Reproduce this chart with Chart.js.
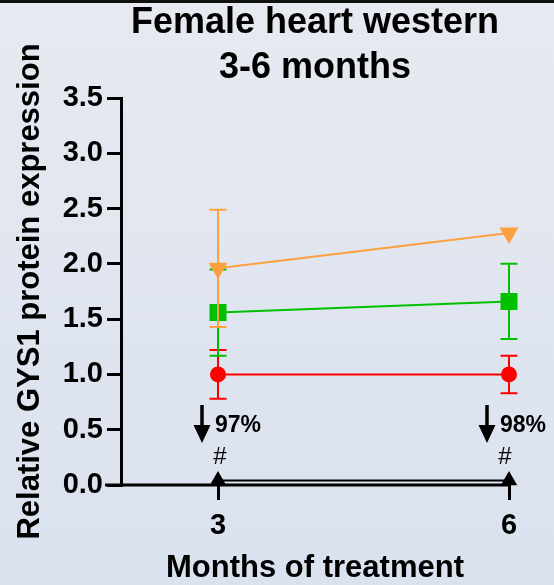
<!DOCTYPE html>
<html>
<head>
<meta charset="utf-8">
<script src="https://cdn.jsdelivr.net/npm/chart.js@4"></script>
<style>
  html, body { margin: 0; padding: 0; background: #e0e6f0; }
  #wrap { width: 554px; height: 585px; }
</style>
</head>
<body>
<div id="wrap"><canvas id="c" width="554" height="585"></canvas></div>
<script>
// Months of treatment (x positions)
const months = [3, 6];
const yTicks = [0, 0.5, 1.0, 1.5, 2.0, 2.5, 3.0, 3.5];

// Group means and SD per month
const redMean = [1.00, 1.00];
const redSD = [0.22, 0.17];
const greenMean = [1.56, 1.66];
const greenSD = [0.39, 0.34];
const orangeMean = [1.96, 2.28];
const orangeSD = [0.53, 0];
const blackMean = [0.04, 0.04];
const blackSD = [0, 0];

// Percent-reduction annotations shown above the x axis
const noteMonths = [3, 6];
const noteTexts = ['97%', '98%'];
const noteMarks = ['#', '#'];

const FONT = '"Liberation Sans", Arial, sans-serif';

function pts(values) {
  return months.map((m, i) => ({ x: m, y: values[i] }));
}

const sdBySeries = [orangeSD, greenSD, redSD, blackSD];

// Background and top rule
const backdrop = {
  id: 'backdrop',
  beforeDraw(chart) {
    const { ctx, width, height } = chart;
    ctx.save();
    const g = ctx.createLinearGradient(0, 0, 0, height);
    g.addColorStop(0, '#e6e9f0');
    g.addColorStop(1, '#dae2ef');
    ctx.fillStyle = g;
    ctx.fillRect(0, 0, width, height);
    ctx.fillStyle = '#111111';
    ctx.fillRect(0, 0, width, 3);
    ctx.restore();
  }
};

// Vertical SD error bars, drawn right after each dataset
const errorBars = {
  id: 'errorBars',
  afterDatasetDraw(chart, args) {
    const sd = sdBySeries[args.index];
    if (!sd) return;
    const ds = chart.data.datasets[args.index];
    const { ctx } = chart;
    const ys = chart.scales.y;
    const xs = chart.scales.x;
    ctx.save();
    ctx.strokeStyle = ds.borderColor;
    ctx.lineWidth = 2;
    ds.data.forEach((p, i) => {
      if (!sd[i]) return;
      const x = xs.getPixelForValue(p.x);
      const yHi = ys.getPixelForValue(p.y + sd[i]);
      const yLo = ys.getPixelForValue(p.y - sd[i]);
      ctx.beginPath();
      ctx.moveTo(x, yHi); ctx.lineTo(x, yLo);
      ctx.moveTo(x - 8.5, yHi); ctx.lineTo(x + 8.5, yHi);
      ctx.moveTo(x - 8.5, yLo); ctx.lineTo(x + 8.5, yLo);
      ctx.stroke();
    });
    ctx.restore();
  }
};

// X axis rule (extends a little left of the y axis) and the annotations
const extras = {
  id: 'extras',
  afterDraw(chart) {
    const { ctx, width } = chart;
    const xs = chart.scales.x;
    const ys = chart.scales.y;
    const y0 = ys.getPixelForValue(0);
    ctx.save();
    ctx.strokeStyle = '#000';
    ctx.lineWidth = 3;
    ctx.beginPath();
    ctx.moveTo(ys.right - 16, y0);
    ctx.lineTo(xs.right + 1, y0);
    ctx.stroke();

    noteMonths.forEach((m, i) => {
      const xm = xs.getPixelForValue(m);
      const shift = Math.min(0, (width - 8) - (xm + 43));
      const xa = xm - 16 + shift;
      // arrow pointing down
      ctx.fillStyle = '#000';
      ctx.strokeStyle = '#000';
      ctx.lineWidth = 3.5;
      ctx.beginPath();
      ctx.moveTo(xa, y0 - 80);
      ctx.lineTo(xa, y0 - 55);
      ctx.stroke();
      ctx.beginPath();
      ctx.moveTo(xa - 8.5, y0 - 60);
      ctx.lineTo(xa + 8.5, y0 - 60);
      ctx.lineTo(xa, y0 - 42);
      ctx.closePath();
      ctx.fill();
      // percentage text
      ctx.font = 'bold 23px ' + FONT;
      ctx.textAlign = 'left';
      ctx.textBaseline = 'alphabetic';
      ctx.fillText(noteTexts[i], xm - 3 + shift, y0 - 53);
      // significance mark
      ctx.font = '24px ' + FONT;
      ctx.textAlign = 'center';
      ctx.textBaseline = 'middle';
      ctx.fillText(noteMarks[i], xm + 2 + shift, y0 - 28);
    });
    ctx.restore();
  }
};

new Chart(document.getElementById('c'), {
  type: 'line',
  data: {
    datasets: [
      {
        label: 'orange', data: pts(orangeMean),
        borderColor: '#ffa040', backgroundColor: '#ffa040',
        pointStyle: 'triangle', rotation: 180, pointRadius: 9, pointHoverRadius: 9,
        borderWidth: 2, clip: false
      },
      {
        label: 'green', data: pts(greenMean),
        borderColor: '#00c000', backgroundColor: '#00c000',
        pointStyle: 'rect', pointRadius: 10.6, pointHoverRadius: 10.6,
        borderWidth: 2, clip: false
      },
      {
        label: 'red', data: pts(redMean),
        borderColor: '#ff0000', backgroundColor: '#ff0000',
        pointStyle: 'circle', pointRadius: 7, pointHoverRadius: 7,
        borderWidth: 2, clip: false
      },
      {
        label: 'black', data: pts(blackMean),
        borderColor: '#000000', backgroundColor: '#000000',
        pointStyle: 'triangle', pointRadius: 7.5, pointHoverRadius: 7.5,
        borderWidth: 2, clip: false
      }
    ]
  },
  options: {
    responsive: false,
    animation: false,
    events: [],
    layout: { padding: { top: 0, left: 0, right: 45, bottom: 0 } },
    plugins: {
      legend: { display: false },
      tooltip: { enabled: false },
      title: {
        display: true,
        text: ['Female heart western', '3-6 months'],
        color: '#000',
        fullSize: false,
        font: { family: FONT, size: 36, weight: 'bold', lineHeight: 45 / 36 },
        padding: { top: 1, bottom: 7 }
      }
    },
    scales: {
      x: {
        type: 'linear',
        min: 2, max: 6,
        afterBuildTicks(scale) { scale.ticks = months.map(v => ({ value: v })); },
        afterFit(scale) { scale.height = 100; },
        border: { display: false },
        grid: {
          drawOnChartArea: false, drawTicks: true,
          tickLength: 15, tickWidth: 3, tickColor: '#000', color: '#000', lineWidth: 3
        },
        ticks: {
          color: '#000', padding: 9,
          font: { family: FONT, size: 29, weight: 'bold' },
          callback: v => String(v)
        },
        title: {
          display: true, text: 'Months of treatment', color: '#000',
          font: { family: FONT, size: 31, weight: 'bold' },
          padding: { top: 0, bottom: -2 }
        }
      },
      y: {
        min: 0, max: 3.5,
        afterBuildTicks(scale) { scale.ticks = yTicks.map(v => ({ value: v })); },
        afterFit(scale) { scale.width = 121; },
        border: { display: true, color: '#000', width: 3 },
        grid: {
          drawOnChartArea: false, drawTicks: true,
          tickLength: 14, tickWidth: 3, tickColor: '#000', color: '#000', lineWidth: 3
        },
        ticks: {
          color: '#000', padding: 4,
          font: { family: FONT, size: 29, weight: 'bold' },
          callback: v => Number(v).toFixed(1)
        },
        title: {
          display: true, text: 'Relative GYS1 protein expression', color: '#000',
          font: { family: FONT, size: 31, weight: 'bold' },
          padding: { top: 12, bottom: 0 }
        }
      }
    }
  },
  plugins: [backdrop, errorBars, extras]
});
</script>
</body>
</html>
